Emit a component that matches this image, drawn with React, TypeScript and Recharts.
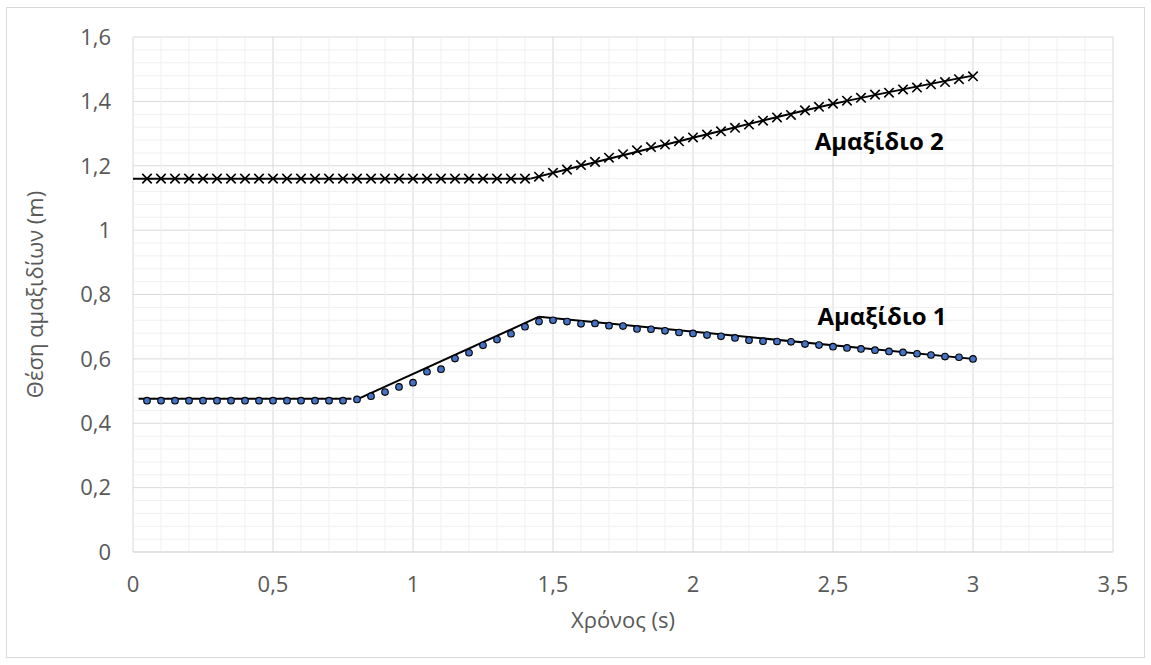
import React from 'react'
import {
  ComposedChart,
  Scatter,
  Line,
  XAxis,
  YAxis,
  CartesianGrid,
  ReferenceLine,
  ReferenceDot,
} from 'recharts'

// time stamps (s), one sample every 0.05 s
const times = [
  0.05, 0.1, 0.15, 0.2, 0.25, 0.3, 0.35, 0.4, 0.45, 0.5, 0.55, 0.6, 0.65, 0.7, 0.75,
  0.8, 0.85, 0.9, 0.95, 1.0, 1.05, 1.1, 1.15, 1.2, 1.25, 1.3, 1.35, 1.4, 1.45, 1.5,
  1.55, 1.6, 1.65, 1.7, 1.75, 1.8, 1.85, 1.9, 1.95, 2.0, 2.05, 2.1, 2.15, 2.2, 2.25,
  2.3, 2.35, 2.4, 2.45, 2.5, 2.55, 2.6, 2.65, 2.7, 2.75, 2.8, 2.85, 2.9, 2.95, 3.0,
]

// Αμαξίδιο 1 position (m)
const cart1 = [
  0.47, 0.47, 0.47, 0.47, 0.47, 0.47, 0.47, 0.47, 0.47, 0.47, 0.47, 0.47, 0.47, 0.47, 0.47,
  0.474, 0.484, 0.497, 0.513, 0.526, 0.56, 0.568, 0.601, 0.619, 0.642, 0.66, 0.678, 0.7, 0.716, 0.72,
  0.716, 0.709, 0.71, 0.703, 0.702, 0.693, 0.692, 0.687, 0.682, 0.679, 0.674, 0.67, 0.665, 0.658, 0.655,
  0.654, 0.653, 0.646, 0.643, 0.638, 0.634, 0.631, 0.627, 0.623, 0.62, 0.616, 0.612, 0.607, 0.605, 0.6,
]

// Αμαξίδιο 2 position (m)
const cart2 = [
  1.16, 1.16, 1.16, 1.16, 1.16, 1.16, 1.16, 1.16, 1.16, 1.16, 1.16, 1.16, 1.16, 1.16, 1.16,
  1.16, 1.16, 1.16, 1.16, 1.16, 1.16, 1.16, 1.16, 1.16, 1.16, 1.16, 1.16, 1.16, 1.166, 1.178,
  1.188, 1.202, 1.212, 1.225, 1.236, 1.248, 1.258, 1.266, 1.276, 1.288, 1.297, 1.307, 1.318, 1.328, 1.34,
  1.35, 1.358, 1.372, 1.383, 1.393, 1.402, 1.411, 1.421, 1.427, 1.437, 1.443, 1.453, 1.46, 1.469, 1.478,
]

// trend lines (start / end points)
const trend1a = [{ x: 0.02, y: 0.476 }, { x: 0.78, y: 0.476 }]
const trend1b = [{ x: 0.81, y: 0.478 }, { x: 1.45, y: 0.731 }]
const trend1c = [{ x: 1.45, y: 0.731 }, { x: 3.0, y: 0.6 }]
const trend2a = [{ x: 0, y: 1.16 }, { x: 1.42, y: 1.16 }]
const trend2b = [
  { x: 1.42, y: 1.16 },
  { x: 1.6, y: 1.2 },
  { x: 2.0, y: 1.287 },
  { x: 2.5, y: 1.392 },
  { x: 3.0, y: 1.48 },
]

const xTicks = [0, 0.5, 1, 1.5, 2, 2.5, 3, 3.5]
const yTicks = [0, 0.2, 0.4, 0.6, 0.8, 1, 1.2, 1.4, 1.6]

const minorX: number[] = []
for (let i = 1; i < 35; i++) if (i % 5 !== 0) minorX.push(Math.round(i * 10) / 100)
const minorY: number[] = []
for (let i = 1; i < 40; i++) if (i % 5 !== 0) minorY.push(Math.round(i * 4) / 100)

const cart1Data = times.map((t, i) => ({ x: t, y: cart1[i] }))
const cart2Data = times.map((t, i) => ({ x: t, y: cart2[i] }))

const FONT = '"Open Sans", sans-serif'
const fmt = (v: number) => String(v).replace('.', ',')

const Dot = (p: any) => (
  <circle cx={p.cx} cy={p.cy} r={3.3} fill="#4472C4" stroke="#000" strokeWidth={1.1} />
)

const Cross = (p: any) => {
  const s = 4.7
  return (
    <path
      d={`M${p.cx - s},${p.cy - s}L${p.cx + s},${p.cy + s}M${p.cx - s},${p.cy + s}L${p.cx + s},${p.cy - s}`}
      stroke="#000"
      strokeWidth={1.6}
      fill="none"
    />
  )
}

const BoldLabel = (text: string) => (p: any) => {
  const vb = p.viewBox || {}
  return (
    <text
      x={vb.x}
      y={vb.y}
      textAnchor="middle"
      dominantBaseline="central"
      fontFamily={FONT}
      fontWeight="bold"
      fontSize={24}
      fill="#000"
    >
      {text}
    </text>
  )
}

export default function App() {
  return (
    <div
      style={{
        position: 'absolute',
        left: 6,
        top: 7,
        width: 1137,
        height: 649,
        border: '1px solid #d9d9d9',
        background: '#fff',
      }}
    >
      <ComposedChart width={1137} height={649} margin={{ top: 29, right: 31, left: 0, bottom: 0 }}>
        {minorX.map((v) => (
          <ReferenceLine key={'mx' + v} x={v} stroke="#f0f0f0" strokeWidth={1} />
        ))}
        {minorY.map((v) => (
          <ReferenceLine key={'my' + v} y={v} stroke="#f0f0f0" strokeWidth={1} />
        ))}
        <CartesianGrid stroke="#d9d9d9" strokeWidth={1} />
        <XAxis
          type="number"
          dataKey="x"
          domain={[0, 3.5]}
          ticks={xTicks}
          tickFormatter={fmt}
          height={105}
          tickLine={false}
          tickSize={0}
          tickMargin={24}
          axisLine={{ stroke: '#d9d9d9' }}
          tick={{ fill: '#595959', fontSize: 22, fontFamily: FONT }}
          label={{
            value: 'Χρόνος (s)',
            position: 'insideBottom',
            offset: 29,
            fill: '#595959',
            fontSize: 22,
            fontFamily: FONT,
          }}
        />
        <YAxis
          type="number"
          dataKey="y"
          domain={[0, 1.6]}
          ticks={yTicks}
          tickFormatter={fmt}
          width={126}
          tickLine={false}
          tickSize={0}
          tickMargin={22}
          axisLine={false}
          tick={{ fill: '#595959', fontSize: 22, fontFamily: FONT }}
          label={{
            value: 'Θέση αμαξιδίων (m)',
            angle: -90,
            position: 'insideLeft',
            offset: 28,
            style: { textAnchor: 'middle' },
            fill: '#595959',
            fontSize: 22,
            fontFamily: FONT,
          }}
        />
        <Line data={trend1a} dataKey="y" stroke="#000" strokeWidth={2} dot={false} isAnimationActive={false} />
        <Line data={trend1b} dataKey="y" stroke="#000" strokeWidth={2} dot={false} isAnimationActive={false} />
        <Line data={trend1c} dataKey="y" stroke="#000" strokeWidth={2} dot={false} isAnimationActive={false} />
        <Line data={trend2a} dataKey="y" stroke="#000" strokeWidth={2} dot={false} isAnimationActive={false} />
        <Line
          data={trend2b}
          dataKey="y"
          type="monotone"
          stroke="#000"
          strokeWidth={2}
          dot={false}
          isAnimationActive={false}
        />
        <Scatter data={cart1Data} shape={Dot} isAnimationActive={false} />
        <Scatter data={cart2Data} shape={Cross} isAnimationActive={false} />
        <ReferenceDot x={2.665} y={1.28} r={0} label={BoldLabel('Αμαξίδιο 2')} />
        <ReferenceDot x={2.675} y={0.736} r={0} label={BoldLabel('Αμαξίδιο 1')} />
      </ComposedChart>
    </div>
  )
}
